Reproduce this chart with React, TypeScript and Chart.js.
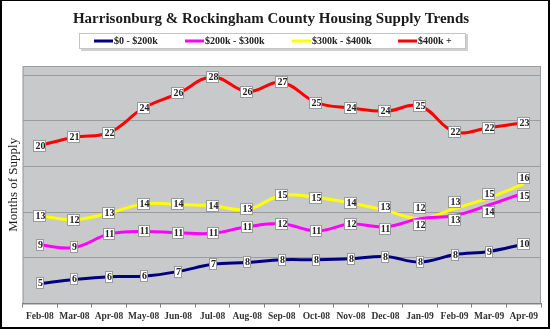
import { useEffect, useRef } from 'react';
import { Chart, registerables } from 'chart.js';

Chart.register(...registerables);

const categories = ['Feb-08', 'Mar-08', 'Apr-08', 'May-08', 'Jun-08', 'Jul-08', 'Aug-08', 'Sep-08', 'Oct-08', 'Nov-08', 'Dec-08', 'Jan-09', 'Feb-09', 'Mar-09', 'Apr-09'];
const seriesNames = ['$0 - $200k', '$200k - $300k', '$300k - $400k', '$400k +'];
const range0to200 = [5.2, 5.65, 5.95, 6.0, 6.5, 7.3, 7.5, 7.8, 7.8, 7.9, 8.15, 7.55, 8.35, 8.7, 9.5];
const range200to300 = [9.4, 9.15, 10.6, 10.9, 10.75, 10.7, 11.4, 11.75, 10.95, 11.7, 11.4, 12.3, 12.65, 13.8, 15.1];
const range300to400 = [12.6, 12.2, 12.9, 13.9, 13.85, 13.7, 13.3, 14.85, 14.6, 14.0, 13.2, 12.3, 13.4, 14.6, 16.1];
const range400plus = [20.3, 21.2, 21.7, 24.4, 26.0, 27.8, 26.2, 27.2, 25.0, 24.4, 24.05, 24.6, 21.8, 22.25, 22.8];
const gridTicks = [3, 8, 13, 18, 23, 28];

const colors = ['#000080', '#FF00FF', '#FFFF00', '#FF0000'];
// vertical nudges (px) of value labels where they would overlap
const labelNudges = [
  [0, 0, 0, 0, 0, 0, 0, 0, 0, 0, 0, 0, 0, 0, 0],
  [0, 0, 0, 0, 0, 0, 0, 0, 0, 0, 2, 6, 5, 7, 3],
  [0, 0, 0, 0, 0, 0, 0, 0, 0, 0, -3, -11, -7, -4, -6],
  [0, 0, 0, 0, 0, 0, 0, 0, 0, 0, 0, 0, 0, 0, 0],
];
const legendItemX = [94, 185, 292, 398];
const SERIF = '"Liberation Serif", "DejaVu Serif", serif';

const decorPlugin = {
  id: 'decor',
  beforeDraw(chart: any) {
    const { ctx, chartArea: a, width, height } = chart;
    ctx.save();
    ctx.fillStyle = '#ffffff';
    ctx.fillRect(0, 0, width, height);
    ctx.fillStyle = '#C8C9CB';
    ctx.fillRect(a.left, a.top, a.right - a.left, a.bottom - a.top);
    ctx.strokeStyle = '#9c9c9c';
    ctx.lineWidth = 1;
    ctx.strokeRect(a.left + 0.5, a.top + 0.5, a.right - a.left - 1, a.bottom - a.top);
    // legend box
    ctx.fillStyle = '#d0d0d0';
    ctx.fillRect(81, 34, 387, 17);
    ctx.fillStyle = '#ffffff';
    ctx.fillRect(79, 33, 387, 16);
    ctx.strokeStyle = '#c4c4c4';
    ctx.strokeRect(79.5, 33.5, 386, 15);
    ctx.font = `bold 10px ${SERIF}`;
    ctx.textBaseline = 'middle';
    ctx.textAlign = 'left';
    seriesNames.forEach((name, i) => {
      const x = legendItemX[i];
      ctx.strokeStyle = colors[i];
      ctx.lineWidth = 3;
      ctx.beginPath();
      ctx.moveTo(x, 41);
      ctx.lineTo(x + 19, 41);
      ctx.stroke();
      ctx.fillStyle = '#222';
      ctx.fillText(name, x + 20, 41.5);
    });
    ctx.restore();
  },
  afterDatasetsDraw(chart: any) {
    const { ctx } = chart;
    ctx.save();
    ctx.font = `bold 10px ${SERIF}`;
    ctx.textAlign = 'center';
    ctx.textBaseline = 'middle';
    chart.data.datasets.forEach((ds: any, di: number) => {
      const meta = chart.getDatasetMeta(di);
      meta.data.forEach((pt: any, i: number) => {
        const txt = String(Math.round(ds.data[i]));
        const tw = ctx.measureText(txt).width;
        const w = Math.round(tw + 3);
        const h = 12;
        const cx = Math.round(pt.x);
        const cy = Math.round(pt.y + labelNudges[di][i]);
        const x0 = cx - Math.round(w / 2);
        const y0 = cy - h / 2;
        ctx.fillStyle = '#ffffff';
        ctx.fillRect(x0, y0, w, h);
        ctx.strokeStyle = '#9a9a9a';
        ctx.lineWidth = 1;
        ctx.strokeRect(x0 + 0.5, y0 + 0.5, w - 1, h - 1);
        ctx.fillStyle = '#222';
        ctx.fillText(txt, cx + 0.5, cy + 0.5);
      });
    });
    ctx.restore();
  },
  afterDraw(chart: any) {
    const { ctx, width, height } = chart;
    ctx.save();
    ctx.fillStyle = '#000';
    ctx.fillRect(0, 0, 2, height);
    ctx.fillRect(width - 2, 0, 2, height);
    ctx.fillRect(0, height - 2, width, 2);
    ctx.fillRect(0, 0, width, 1);
    ctx.restore();
  },
};

export default function App() {
  const canvasRef = useRef<HTMLCanvasElement | null>(null);

  useEffect(() => {
    const data = [range0to200, range200to300, range300to400, range400plus];
    const chart = new Chart(canvasRef.current as HTMLCanvasElement, {
      type: 'line',
      data: {
        labels: categories,
        datasets: seriesNames.map((name, i) => ({
          label: name,
          data: data[i],
          borderColor: colors[i],
          backgroundColor: colors[i],
          borderWidth: 3,
          pointRadius: 0,
          tension: 0.4,
          fill: false,
        })),
      },
      options: {
        animation: false,
        responsive: true,
        maintainAspectRatio: false,
        layout: { padding: { left: 1, right: 9, top: 0, bottom: 4 } },
        plugins: {
          legend: { display: false },
          tooltip: { enabled: false },
          title: {
            display: true,
            text: 'Harrisonburg & Rockingham County Housing Supply Trends',
            color: '#1a1a1a',
            font: { family: SERIF, size: 15, weight: 'bold' },
            padding: { top: 10, bottom: 38 },
          },
        },
        scales: {
          x: {
            offset: true,
            grid: { display: true, drawOnChartArea: false, drawTicks: true, tickLength: 4, offset: true, color: '#808080' },
            border: { display: true, color: '#808080', width: 1 },
            ticks: { color: '#333', font: { family: SERIF, size: 9.5, weight: 'bold' }, padding: 3, maxRotation: 0, autoSkip: false },
          },
          y: {
            min: 3,
            max: 29,
            afterBuildTicks: (s: any) => {
              s.ticks = gridTicks.map((v) => ({ value: v }));
            },
            grid: {
              drawTicks: false,
              color: (c: any) => (c.tick && c.tick.value === 3 ? 'rgba(0,0,0,0)' : '#9c9c9c'),
              lineWidth: 1,
            },
            border: { display: false },
            ticks: { display: false },
            title: {
              display: true,
              text: 'Months of Supply',
              color: '#222',
              font: { family: SERIF, size: 13 },
              padding: { top: 5, bottom: 1 },
            },
          },
        },
      },
      plugins: [decorPlugin],
    } as any);
    return () => chart.destroy();
  }, []);

  return (
    <div style={{ position: 'fixed', left: 0, top: 0, width: 550, height: 329 }}>
      <canvas ref={canvasRef} />
    </div>
  );
}
